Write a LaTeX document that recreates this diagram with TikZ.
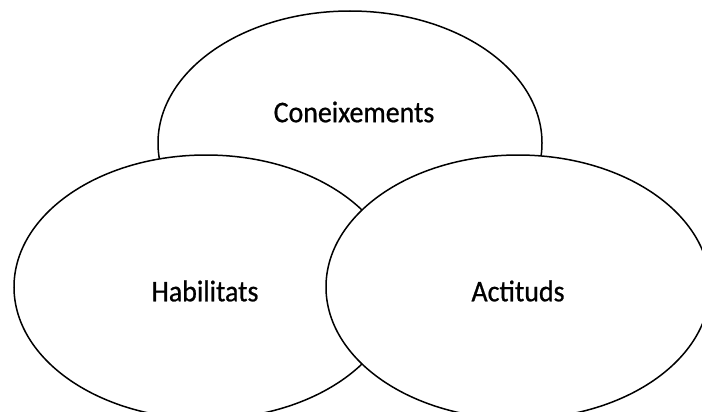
\documentclass[tikz,border=0pt]{standalone}
\usepackage{fontspec}
\setmainfont{Carlito}
\newfontfamily\lblfont{Carlito}[FakeBold=0.7,FakeStretch=0.93]
\usetikzlibrary{shapes.geometric}
\begin{document}
\begin{tikzpicture}[x=1pt,y=-1pt,
  oval/.style={ellipse,draw=black,fill=white,line width=1.5pt,
    minimum width=384pt,minimum height=264pt,inner sep=0pt},
  lbl/.style={font=\lblfont\fontsize{30}{32}\selectfont,text=black,inner sep=0pt}]
\useasboundingbox[fill=white] (0,0) rectangle (702,412);
\clip (0,0) rectangle (702,412);
\node[oval] (top) at (350,143) {};
\node[oval] (left) at (206,287) {};
\node[oval] (right) at (518,287) {};
\node[lbl] (t1) at (354,112) {Coneixements};
\node[lbl] (t2) at (205,291) {Habilitats};
\node[lbl] (t3) at (518,291) {Actituds};
\end{tikzpicture}
\end{document}
